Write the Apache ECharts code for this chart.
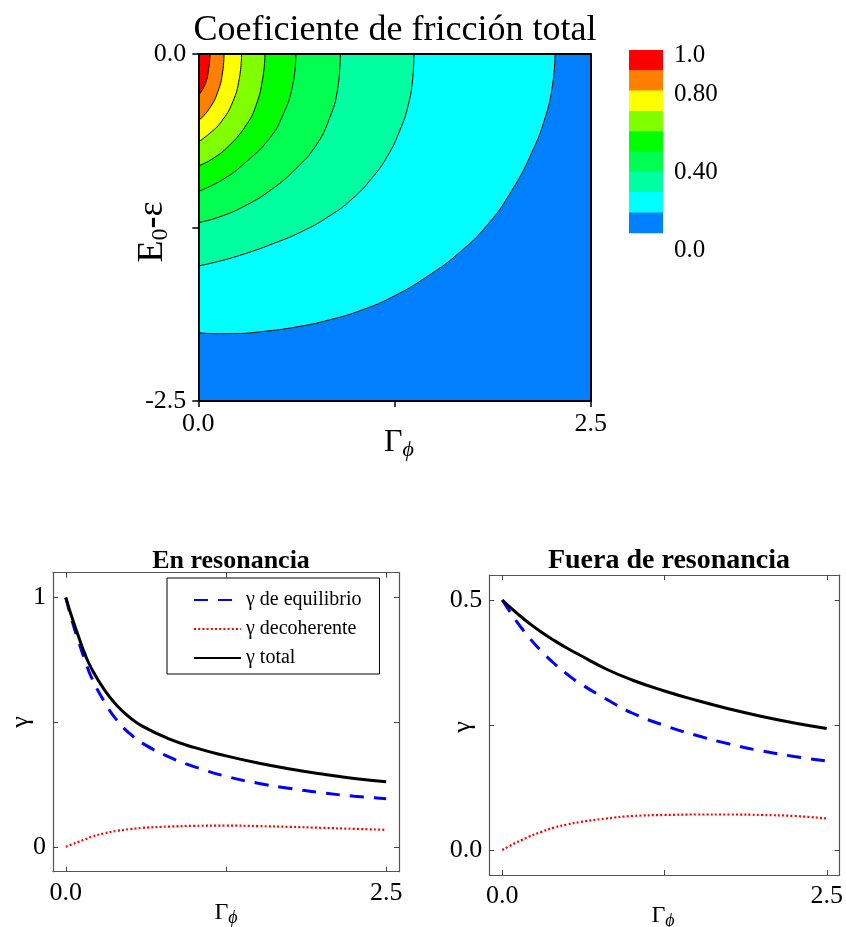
<!DOCTYPE html>
<html><head><meta charset="utf-8">
<script src="https://cdn.jsdelivr.net/npm/echarts@6/dist/echarts.min.js"></script>
<style>html,body{margin:0;padding:0;background:#fff}#c{width:846px;height:927px}</style>
</head><body><div id="c"></div>
<script>
// ---------- Top panel: contour levels (outer -> inner) ----------
const contourC8 = [[0,-2.008],[0.113,-2.015],[0.240,-2.014],[0.412,-1.999],[0.622,-1.967],[0.833,-1.916],[1.043,-1.844],[1.247,-1.744],[1.463,-1.599],[1.667,-1.427],[1.846,-1.225],[1.999,-0.980],[2.126,-0.706],[2.209,-0.461],[2.257,-0.223],[2.273,0]];
const contourC7 = [[0,-1.527],[0.126,-1.495],[0.291,-1.441],[0.470,-1.369],[0.654,-1.282],[0.826,-1.174],[0.979,-1.045],[1.107,-0.893],[1.209,-0.728],[1.285,-0.548],[1.336,-0.375],[1.365,-0.187],[1.374,0]];
const contourC6 = [[0,-1.215],[0.134,-1.174],[0.304,-1.090],[0.474,-0.970],[0.622,-0.826],[0.750,-0.658],[0.835,-0.466],[0.888,-0.250],[0.905,0]];
const contourC5 = [[0,-0.990],[0.155,-0.905],[0.304,-0.778],[0.452,-0.610],[0.538,-0.442],[0.601,-0.226],[0.622,0]];
const contourC4 = [[0,-0.807],[0.092,-0.754],[0.198,-0.658],[0.304,-0.514],[0.368,-0.370],[0.410,-0.178],[0.425,0]];
const contourC3 = [[0,-0.634],[0.070,-0.574],[0.145,-0.490],[0.219,-0.346],[0.261,-0.178],[0.276,0]];
const contourC2 = [[0,-0.483],[0.070,-0.394],[0.124,-0.274],[0.155,-0.130],[0.164,0]];
const contourC1 = [[0,-0.300],[0.045,-0.214],[0.066,-0.106],[0.075,0]];
const contours = [contourC8, contourC7, contourC6, contourC5, contourC4, contourC3, contourC2, contourC1];
const fillColors = ['#00ffff','#00ffa0','#00ff50','#00ff00','#80ff00','#ffff00','#ff8000','#ff0000'];
const baseColor = '#0080ff';
const colorbarColors = ['#ff0000','#ff8000','#ffff00','#80ff00','#00ff00','#00ff50','#00ffa0','#00ffff','#0080ff'];
const colorbarLabels = ['1.0','0.80','0.40','0.0'];
const colorbarLabelValues = [1.0, 0.8, 0.4, 0.0];

// ---------- Bottom panels ----------
const gammaX = [0,0.05,0.1,0.15,0.2,0.3,0.4,0.5,0.6,0.8,1.0,1.25,1.5,1.75,2.0,2.25,2.5];
const resEquil = [1.0,0.905,0.823,0.748,0.680,0.583,0.507,0.454,0.415,0.362,0.322,0.283,0.255,0.234,0.217,0.203,0.193];
const resDecoh = [0,0.010,0.020,0.030,0.040,0.054,0.064,0.071,0.076,0.081,0.084,0.085,0.083,0.080,0.076,0.072,0.068];
const resTotal = [1.0,0.917,0.843,0.772,0.716,0.631,0.566,0.519,0.483,0.434,0.399,0.365,0.336,0.312,0.292,0.274,0.261];
const offEquil = [0.5,0.480,0.461,0.4435,0.427,0.398,0.373,0.3515,0.333,0.302,0.274,0.249,0.229,0.212,0.198,0.187,0.178];
const offDecoh = [0,0.007,0.014,0.020,0.026,0.036,0.045,0.051,0.056,0.063,0.068,0.070,0.071,0.071,0.070,0.068,0.063];
const offTotal = [0.5,0.488,0.4765,0.4655,0.455,0.436,0.419,0.4035,0.3895,0.362,0.340,0.318,0.299,0.282,0.267,0.254,0.243];
const seriesNames = ['γ de equilibrio','γ decoherente','γ total'];

const FF = '"Liberation Serif","Times New Roman",serif';
const zip = (xs, ys) => xs.map((x, i) => [x, ys[i]]);

const chart = echarts.init(document.getElementById('c'), null, {renderer: 'canvas'});

function frameAxis(grid, pos, min, max, opts) {
  return Object.assign({
    type: 'value', gridIndex: grid, position: pos, min: min, max: max,
    splitLine: {show: false}, z: 10,
    axisLine: {show: true, onZero: false, lineStyle: {color: '#000', width: 2}},
    axisTick: {show: false}, axisLabel: {show: false}
  }, opts || {});
}

const tickFmt1 = v => Number(v).toFixed(1);

// top panel axes
const xAxes = [
  frameAxis(0, 'bottom', 0, 2.5, {
    axisTick: {show: true, inside: false, length: 6, customValues: [0, 1.25, 2.5], lineStyle: {color: '#000', width: 1.5}},
    axisLabel: {show: true, customValues: [0, 2.5], formatter: tickFmt1, fontSize: 26, fontFamily: FF, color: '#000', margin: 10}
  }),
  frameAxis(0, 'top', 0, 2.5),
];
const yAxes = [
  frameAxis(0, 'left', -2.5, 0, {
    axisTick: {show: true, inside: false, length: 6, customValues: [-2.5, -1.25, 0], lineStyle: {color: '#000', width: 1.5}},
    axisLabel: {show: true, customValues: [-2.5, 0], formatter: tickFmt1, fontSize: 26, fontFamily: FF, color: '#000', margin: 12}
  }),
  frameAxis(0, 'right', -2.5, 0),
];

// bottom panels axes
function bottomAxes(grid, yMin, yMax, yTicks, yLabels, yFmt) {
  const line = {show: true, onZero: false, lineStyle: {color: '#555', width: 1.2}};
  const tick = (vals) => ({show: true, inside: true, length: 5, customValues: vals, lineStyle: {color: '#444', width: 1}});
  xAxes.push(frameAxis(grid, 'bottom', -0.1, 2.6, {
    axisLine: line, axisTick: tick([0, 1.25, 2.5]),
    axisLabel: {show: true, customValues: [0, 2.5], formatter: tickFmt1, fontSize: 26, fontFamily: FF, color: '#000', margin: 8}
  }));
  xAxes.push(frameAxis(grid, 'top', -0.1, 2.6, {axisLine: line, axisTick: tick([0, 1.25, 2.5])}));
  yAxes.push(frameAxis(grid, 'left', yMin, yMax, {
    axisLine: line, axisTick: tick(yTicks),
    axisLabel: {show: true, customValues: yLabels, formatter: yFmt, fontSize: 26, fontFamily: FF, color: '#000', margin: 7}
  }));
  yAxes.push(frameAxis(grid, 'right', yMin, yMax, {axisLine: line, axisTick: tick(yTicks)}));
}
bottomAxes(1, -0.1, 1.1, [0, 0.5, 1], [0, 1], v => String(Math.round(v)));
bottomAxes(2, -0.05, 0.55, [0, 0.25, 0.5], [0, 0.5], tickFmt1);

const series = [];
contours.forEach((c, i) => {
  series.push({
    type: 'line', name: 'nivel' + (8 - i), xAxisIndex: 0, yAxisIndex: 0, data: c,
    smooth: 0.5, symbol: 'none', silent: true, animation: false,
    lineStyle: {color: '#000', width: 1},
    areaStyle: {color: fillColors[i], opacity: 1, origin: 'end'}
  });
});

function gammaSeries(xi, yi, eq, de, tot) {
  series.push({type: 'line', name: seriesNames[0], xAxisIndex: xi, yAxisIndex: yi, data: zip(gammaX, eq),
    smooth: true, symbol: 'none', lineStyle: {color: '#0000ff', width: 3, type: [14, 10]}, itemStyle: {color: '#0000ff'}});
  series.push({type: 'line', name: seriesNames[1], xAxisIndex: xi, yAxisIndex: yi, data: zip(gammaX, de),
    smooth: true, symbol: 'none', lineStyle: {color: '#ff0000', width: 2.2, type: [2, 2.2]}, itemStyle: {color: '#ff0000'}});
  series.push({type: 'line', name: seriesNames[2], xAxisIndex: xi, yAxisIndex: yi, data: zip(gammaX, tot),
    smooth: true, symbol: 'none', lineStyle: {color: '#000', width: 3}, itemStyle: {color: '#000'}});
}
gammaSeries(2, 2, resEquil, resDecoh, resTotal);
gammaSeries(4, 4, offEquil, offDecoh, offTotal);

// colorbar (legend of the contour levels)
const graphics = [];
const cbLeft = 629, cbTop = 50, cbW = 34, cbH = 182.7;
const bandH = cbH / colorbarColors.length;
colorbarColors.forEach((col, i) => {
  graphics.push({type: 'rect', left: cbLeft, top: cbTop + i * bandH, shape: {width: cbW, height: bandH + 0.5}, style: {fill: col}, silent: true});
});
colorbarLabels.forEach((lab, i) => {
  graphics.push({type: 'text', x: 674, y: 55.5 + (1 - colorbarLabelValues[i]) * 195,
    style: {text: lab, font: '25px ' + FF, fill: '#000', textAlign: 'left', textVerticalAlign: 'middle'}});
});

// axis names
function rtext(x, y, text, rich, rot) {
  graphics.push({type: 'text', x: x, y: y, rotation: rot || 0,
    style: {text: text, rich: rich, align: 'center', verticalAlign: 'middle', fill: '#000'}});
}
rtext(153, 232, '{e|E}{s|0}{b|-}{e|ε}', {
  e: {fontSize: 36, fontFamily: FF, lineHeight: 40},
  s: {fontSize: 24, fontFamily: FF, lineHeight: 20, verticalAlign: 'bottom'},
  b: {fontSize: 36, fontFamily: FF, fontWeight: 'bold', lineHeight: 40}
}, Math.PI / 2);
const gpRich = (a, b) => ({
  g: {fontSize: a, fontFamily: FF, lineHeight: a + 4},
  p: {fontSize: b, fontFamily: FF, fontStyle: 'italic', lineHeight: b, verticalAlign: 'bottom'}
});
rtext(399, 443, '{g|Γ}{p|ϕ}', gpRich(32, 22));
rtext(226, 913, '{g|Γ}{p|ϕ}', gpRich(24, 18));
rtext(663, 916, '{g|Γ}{p|ϕ}', gpRich(24, 18));
rtext(21, 722, '{g|γ}', {g: {fontSize: 26, fontFamily: FF}}, Math.PI / 2);
rtext(463, 727, '{g|γ}', {g: {fontSize: 26, fontFamily: FF}}, Math.PI / 2);

chart.setOption({
  animation: false,
  backgroundColor: '#fff',
  title: [
    {text: 'Coeficiente de fricción total', left: 390, top: 8, textAlign: 'center',
      textStyle: {fontFamily: FF, fontSize: 36, fontWeight: 'normal', color: '#000'}},
    {text: 'En resonancia', left: 226, top: 543, textAlign: 'center',
      textStyle: {fontFamily: FF, fontSize: 26, fontWeight: 'bold', color: '#000'}},
    {text: 'Fuera de resonancia', left: 664, top: 542, textAlign: 'center',
      textStyle: {fontFamily: FF, fontSize: 28, fontWeight: 'bold', color: '#000'}}
  ],
  legend: {
    data: seriesNames, orient: 'vertical', left: 167, top: 578,
    itemWidth: 47, itemHeight: 14, itemGap: 9, selectedMode: false,
    padding: [12, 18, 6, 26], borderColor: '#000', borderWidth: 1, backgroundColor: '#fff',
    itemStyle: {opacity: 0},
    textStyle: {fontFamily: FF, fontSize: 20, color: '#000'}
  },
  grid: [
    {left: 198.3, top: 54, width: 392.4, height: 347, show: true, backgroundColor: baseColor, borderWidth: 0},
    {left: 53, top: 572.7, width: 346, height: 299},
    {left: 489.3, top: 575, width: 351, height: 300}
  ],
  xAxis: xAxes,
  yAxis: yAxes,
  series: series,
  graphic: graphics
});
</script></body></html>
